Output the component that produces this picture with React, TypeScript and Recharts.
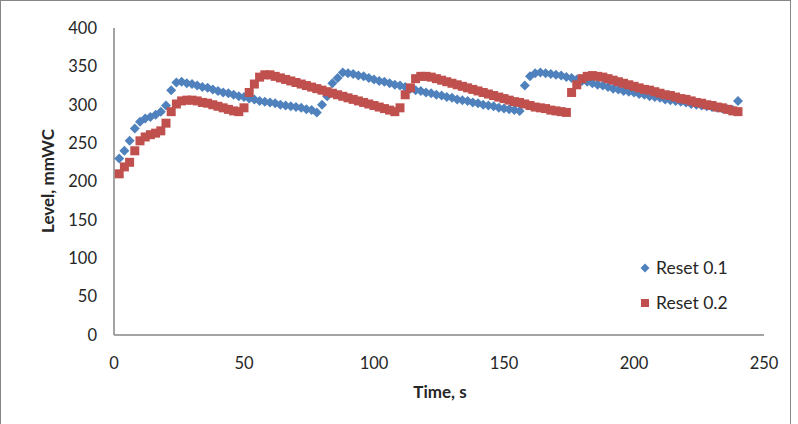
import { ScatterChart, Scatter, XAxis, YAxis } from "recharts";

// sample times, s
const times = [
  2, 4, 6, 8, 10, 12, 14, 16, 18, 20, 22, 24, 26, 28, 30, 32, 34, 36, 38, 40,
  42, 44, 46, 48, 50, 52, 54, 56, 58, 60, 62, 64, 66, 68, 70, 72, 74, 76, 78, 80,
  82, 84, 86, 88, 90, 92, 94, 96, 98, 100, 102, 104, 106, 108, 110, 112, 114, 116, 118, 120,
  122, 124, 126, 128, 130, 132, 134, 136, 138, 140, 142, 144, 146, 148, 150, 152, 154, 156, 158, 160,
  162, 164, 166, 168, 170, 172, 174, 176, 178, 180, 182, 184, 186, 188, 190, 192, 194, 196, 198, 200,
  202, 204, 206, 208, 210, 212, 214, 216, 218, 220, 222, 224, 226, 228, 230, 232, 234, 236, 238, 240,
];

// level, mmWC
const reset01 = [
  230, 240, 253, 269, 278, 282, 284, 287, 291, 299, 319, 329, 330, 328, 327, 325, 323, 322, 320, 318,
  316, 315, 313, 311, 310, 308, 307, 305, 304, 303, 302, 300, 299, 298, 297, 296, 294, 293, 290, 300,
  311, 328, 335, 342, 341, 340, 338, 337, 335, 333, 331, 330, 328, 326, 325, 323, 321, 319, 318, 316,
  315, 313, 312, 310, 309, 307, 306, 305, 303, 302, 300, 299, 298, 296, 295, 294, 293, 292, 325, 337,
  341, 342, 341, 340, 339, 338, 336, 335, 333, 331, 330, 328, 326, 325, 323, 321, 320, 318, 317, 316,
  314, 313, 311, 310, 309, 307, 306, 305, 304, 303, 301, 300, 299, 298, 297, 296, 295, 294, 293, 305,
];

const reset02 = [
  210, 219, 225, 240, 253, 258, 261, 263, 266, 276, 291, 301, 305, 306, 306, 305, 303, 302, 300, 298,
  296, 294, 292, 291, 296, 316, 327, 336, 339, 339, 337, 335, 333, 331, 329, 327, 325, 323, 321, 319,
  317, 315, 313, 311, 309, 307, 305, 303, 301, 299, 297, 295, 293, 291, 296, 313, 322, 334, 337, 337,
  336, 334, 332, 330, 328, 326, 324, 322, 320, 318, 316, 314, 312, 310, 308, 306, 304, 303, 301, 299,
  297, 296, 295, 293, 292, 291, 290, 316, 326, 334, 337, 338, 337, 336, 334, 332, 330, 328, 326, 324,
  322, 320, 319, 317, 315, 313, 312, 310, 308, 307, 305, 303, 302, 300, 299, 297, 296, 294, 292, 291,
];

const xTicks = [0, 50, 100, 150, 200, 250];
const yTicks = [0, 50, 100, 150, 200, 250, 300, 350, 400];

const BLUE = "#4f81bd";
const RED = "#c0504d";
const AXIS = "#868686";
const TEXT = "#262626";
const FONT = "Lato, 'Open Sans', sans-serif";

const series01 = times.map((t, i) => ({ t, v: reset01[i] }));
const series02 = times.map((t, i) => ({ t, v: reset02[i] }));

const Diamond = (props: any) => {
  const { cx, cy } = props;
  const r = 5;
  return (
    <polygon
      points={`${cx},${cy - r} ${cx + r},${cy} ${cx},${cy + r} ${cx - r},${cy}`}
      fill={BLUE}
    />
  );
};

const Square = (props: any) => {
  const { cx, cy } = props;
  return <rect x={cx - 4.5} y={cy - 4.5} width={9} height={9} fill={RED} />;
};

const tickStyle = { fill: TEXT, fontSize: 16.5, fontFamily: FONT };

export default function App() {
  return (
    <div style={{ position: "relative", width: 798, height: 424, fontFamily: FONT, color: TEXT }}>
      <style>{`body{margin:0;overflow:hidden;background:#fff}`}</style>
      <div
        style={{
          position: "absolute",
          left: 0,
          top: 0,
          width: 791,
          height: 424,
          borderLeft: `1px solid ${AXIS}`,
          borderRight: `1px solid ${AXIS}`,
          borderTop: `1px solid ${AXIS}`,
          boxSizing: "border-box",
        }}
      />
      <ScatterChart
        width={798}
        height={424}
        margin={{ top: 28, right: 34, bottom: 59, left: 54 }}
        style={{ position: "absolute", left: 0, top: 0 }}
      >
        <XAxis
          type="number"
          dataKey="t"
          domain={[0, 250]}
          ticks={xTicks}
          height={30}
          axisLine={{ stroke: AXIS, strokeWidth: 1.5 }}
          tickLine={false}
          tickSize={0}
          tickMargin={22}
          tick={tickStyle}
        />
        <YAxis
          type="number"
          dataKey="v"
          domain={[0, 400]}
          ticks={yTicks}
          width={60}
          axisLine={{ stroke: AXIS, strokeWidth: 1.5 }}
          tickLine={false}
          tickSize={0}
          tickMargin={17}
          tick={tickStyle}
        />
        <Scatter name="Reset 0.1" data={series01} shape={Diamond} isAnimationActive={false} />
        <Scatter name="Reset 0.2" data={series02} shape={Square} isAnimationActive={false} />
      </ScatterChart>

      {/* axis titles */}
      <div
        style={{
          position: "absolute",
          left: 47,
          top: 181,
          transform: "translate(-50%, -50%) rotate(-90deg)",
          fontWeight: 700,
          fontSize: 17,
          whiteSpace: "nowrap",
        }}
      >
        Level, mmWC
      </div>
      <div
        style={{
          position: "absolute",
          left: 440,
          top: 391,
          transform: "translate(-50%, -50%)",
          fontWeight: 700,
          fontSize: 17,
          whiteSpace: "nowrap",
        }}
      >
        Time, s
      </div>

      {/* legend */}
      <div style={{ position: "absolute", left: 640, top: 257, fontSize: 17.5, lineHeight: "22px" }}>
        <div style={{ display: "flex", alignItems: "center", height: 22, marginBottom: 13 }}>
          <svg width={10} height={10} style={{ marginRight: 6 }}>
            <polygon points="5,0.5 9.5,5 5,9.5 0.5,5" fill={BLUE} />
          </svg>
          Reset 0.1
        </div>
        <div style={{ display: "flex", alignItems: "center", height: 22 }}>
          <svg width={10} height={10} style={{ marginRight: 6 }}>
            <rect x={1} y={1} width={8} height={8} fill={RED} />
          </svg>
          Reset 0.2
        </div>
      </div>
    </div>
  );
}
